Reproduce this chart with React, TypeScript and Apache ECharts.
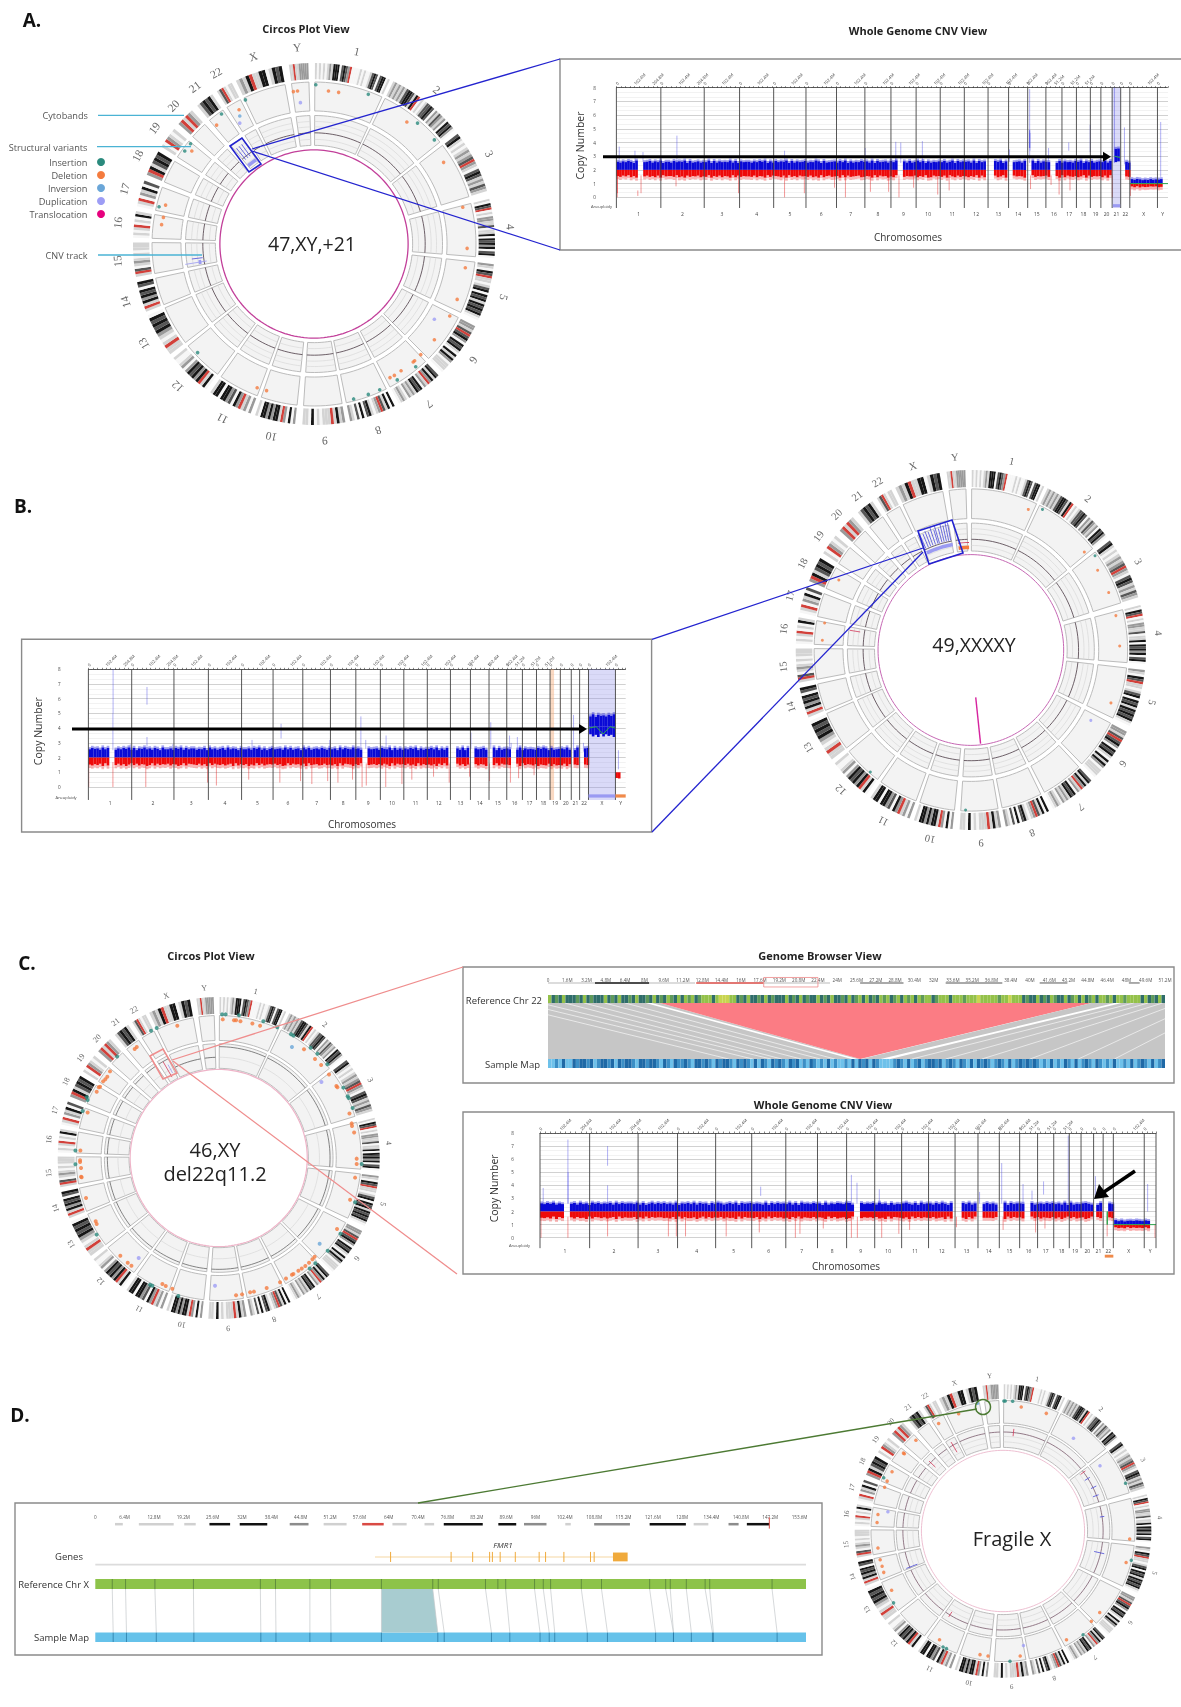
import React, { useEffect, useRef } from "react";
import * as echarts from "echarts";

const chromNames = ["1","2","3","4","5","6","7","8","9","10","11","12","13","14","15","16","17","18","19","20","21","22","X","Y"];
const chromLengthsMb = [249,243,198,191,181,171,159,146,141,135,135,133,115,107,102,90,81,78,59,63,48,51,155,59];
const chromStartDeg = [0.3,26,52.5,75.5,96.4,117,136.5,153.5,170,186,200.5,216.5,232.5,248,259.5,272,282,292.5,302.5,311.5,319.8,327.5,334.4,352];
const chromEndDegs = [24.8,51,73,94.5,115,135,152,168.5,183.7,199,215,231,246.8,257.8,270.5,280.5,290.5,300.7,309.5,317.6,325.8,333,349.7,358.2];
const cytobands = [
  "10101012144403432r0000101001343034401","1212121344314r010133430213212043420","34101012123r210343121321","1043r0102211301140434240340",
  "21043r110134043414343410","2213r342043410414201110","34142r120434121201210","40413r2101430403012","2141r1110104011",
  "20402r1442424401","2021r24032440441","041r424342021001","11r1012434340","1r142434034","1r30121010111","0101r01041",
  "01r021403","2r413434","10r2101","2r1r21","134341","13r1011","1214r114401434","11r1122222",
];
const svColors = ["#2a8a7d", "#f47b3e", "#6aa6d8", "#9d9df5", "#e6007e"];
const svNames = ["Insertion", "Deletion", "Inversion", "Duplication", "Translocation"];

const dotsA = [[.01,.88,0],[.08,.845,1],[.136,.838,1],[.3,.827,0],[.513,.674,1],[.572,.668,0],[.665,.575,0],[.716,.451,1],[.822,.203,1],[.846,-.024,1],[.836,-.131,1],[.791,-.306,1],[.665,-.416,3],[.75,-.398,1],[.665,-.529,1],[.59,-.611,1],[.556,-.645,1],[.548,-.652,1],[.562,-.678,0],[.481,-.7,1],[.444,-.726,1],[.42,-.738,1],[.46,-.751,0],[.363,-.805,0],[.3,-.831,0],[.219,-.856,0],[-.262,-.81,1],[-.314,-.794,1],[-.643,-.6,0],[-.842,.107,1],[-.832,.147,1],[-.82,.215,1],[-.856,.206,0],[-.714,.514,0],[-.675,.514,1],[-.682,.554,0],[-.538,.657,1],[-.511,.718,0],[-.414,.742,1],[-.41,.707,2],[-.41,.668,3],[-.379,.796,0],[-.114,.842,1],[-.091,.845,1],[-.075,.781,3]];
const dotsB = [[.328,.781,1],[.409,.781,0],[.648,.544,1],[.709,.524,0],[.724,.443,1],[.787,.319,1],[.828,.191,1],[.85,.022,1],[.8,-.294,1],[.685,-.391,3],[-.03,-.889,0],[-.574,-.678,0],[-.848,.054,1],[-.835,.15,1],[-.754,.389,1]];
const dotsC = [[.021,.892,0],[.043,.892,0],[.126,.886,0],[.025,.861,1],[.095,.855,1],[.108,.855,1],[.135,.849,1],[.209,.836,1],[.257,.822,1],[.277,.849,0],[.364,.812,0],[.449,.768,0],[.464,.76,0],[.455,.689,2],[.53,.675,1],[.571,.685,0],[.613,.648,0],[.598,.615,1],[.636,.578,1],[.675,.582,0],[.685,.518,1],[.638,.472,3],[.731,.447,1],[.737,.439,1],[.774,.437,0],[.801,.383,0],[.807,.373,0],[.832,.31,0],[.812,.277,1],[.826,.215,1],[.828,.199,1],[.841,.159,1],[.857,-.004,1],[.857,-.037,1],[.888,-.037,0],[.847,-.122,1],[.816,-.259,1],[.847,-.275,0],[.735,-.441,1],[.756,-.47,0],[.627,-.532,2],[.677,-.576,0],[.596,-.613,1],[.582,-.629,1],[.561,-.65,1],[.6,-.654,0],[.538,-.671,1],[.516,-.687,1],[.565,-.687,0],[.495,-.7,1],[.455,-.725,1],[.464,-.72,1],[.418,-.749,1],[.381,-.772,1],[.298,-.807,1],[.219,-.83,1],[.195,-.834,1],[.145,-.847,1],[.108,-.853,1],[-.023,-.793,3],[-.251,-.857,0],[-.288,-.812,1],[-.329,-.795,1],[-.35,-.783,1],[-.426,-.787,0],[-.412,-.793,0],[-.497,-.621,3],[-.542,-.669,1],[-.565,-.65,1],[-.611,-.607,1],[-.758,-.476,0],[-.758,-.41,1],[-.764,-.393,1],[-.824,-.248,1],[-.851,-.12,1],[-.855,-.116,1],[-.855,-.062,1],[-.89,-.039,0],[-.861,-.025,1],[-.861,-.014,1],[-.89,.046,0],[-.859,.046,1],[-.814,.282,1],[-.845,.292,0],[-.814,.36,0],[-.82,.377,0],[-.758,.412,1],[-.745,.439,1],[-.737,.443,1],[-.718,.476,1],[-.704,.489,1],[-.692,.505,1],[-.675,.538,1],[-.631,.631,0],[-.522,.677,1],[-.509,.689,1],[-.42,.791,0],[-.385,.807,0],[-.257,.822,1]];
const dotsD = [[.006,.886,0],[.015,.886,0],[.065,.884,0],[.123,.845,1],[.292,.802,1],[.475,.632,3],[.654,.445,3],[.826,.325,0],[.854,-.054,1],[.865,-.2,0],[.83,-.215,1],[.652,-.555,1],[.596,-.615,1],[.54,-.708,0],[.428,-.742,1],[.138,-.781,3],[.116,-.852,1],[.047,-.888,0],[-.101,-.852,1],[-.155,-.843,1],[-.381,-.802,0],[-.404,-.791,0],[-.428,-.742,1],[-.738,-.49,0],[-.751,-.404,1],[-.804,-.282,1],[-.815,-.241,1],[-.828,-.196,1],[-.843,-.116,1],[-.849,.058,1],[-.843,.112,1],[-.776,.131,3],[-.798,.299,1],[-.781,.34,1],[-.804,.363,0],[-.748,.404,1],[-.665,.527,1],[-.671,.531,1],[-.587,.619,1],[-.434,.733,1],[-.299,.8,1],[-.172,.871,2]];

// CNV-track marks on the circle: [startDeg, endDeg, innerRadius, outerRadius, colourIndex]
const markColors = ["#9a9af2", "#4a4ad8", "#d23a5a", "#f47b3e"];
const marksA = [[261,261,.6,.72,0],[260,262,.63,.645,0],[263,263,.62,.68,1],[320,325.5,.555,.575,0],[322.5,322.5,.6,.68,1],[324,324,.6,.68,1],[321,321,.6,.68,1]];
const marksB = [[335.5,335.5,.62,.71,1],[337,337,.62,.7,1],[338.3,338.3,.62,.71,1],[339.6,339.6,.62,.7,1],[341,341,.62,.72,1],[342.4,342.4,.62,.7,1],[343.2,343.2,.62,.72,1],[344.6,344.6,.62,.7,1],[345.8,345.8,.62,.72,1],[347,347,.62,.71,1],[348.2,348.2,.62,.72,1],[349.3,349.3,.62,.72,1],[335,350,.585,.605,0],[353,359,.56,.58,3],[353,359,.595,.6,2],[279,279,.64,.7,2]];
const marksC = [[330,330,.58,.69,2],[331.5,331.5,.6,.66,0]];
const marksD = [[53.6,53.6,.65,.69,2],[58,58,.65,.69,1],[64,64,.66,.7,1],[69,69,.65,.69,1],[81.7,81.7,.66,.69,1],[102.8,102.8,.63,.7,1],[6,6,.65,.7,2],[330,330,.62,.7,2],[313.7,313.7,.63,.69,2],[248.6,248.6,.62,.7,1],[212,212,.65,.69,2]];

const levelsA = [2,2,2,2,2,2,2,2,2,2,2,2,2,2,2,2,2,2,2,2,3,2,1,1];
const levelsB = [2,2,2,2,2,2,2,2,2,2,2,2,2,2,2,2,2,2,2,2,2,2,4.1,1];
const levelsC = [2,2,2,2,2,2,2,2,2,2,2,2,2,2,2,2,2,2,2,2,2,2,1,1];
const cnvGaps = [[0,122,144],[8,43,65],[12,0,19],[13,0,19],[14,0,18],[15,36,46],[20,0,13],[21,0,15],[23,30,59]];

const blueTopA = "6475863947"+"5684759366"+"4857693845"+"7465938475"+"6594837566"+"4758693748"+"5769384756"+"8465973845"+"6748593746"+"5867493856"+"7485963748"+"4695837465"+"7584693857"+"6749385746"+"5869374856"+"7486593847"+"6597384756"+"4869375846"+"7594836758"+"6485973648"+"5768493857";
const redLowA = "5746385946"+"6475849365"+"5738694756"+"4867395748"+"5693847566"+"7485693745"+"6849375846"+"5748693854"+"7659384765"+"4875693846"+"5968374756"+"6485739846"+"5749368475"+"6857394865"+"7486395746"+"5694837565"+"4768593846"+"7586394756"+"5849376485"+"6748395764"+"5486973865";
const blueTopB = "5867495867"+"4758694837"+"6957486395"+"5748694857"+"7465839574"+"6849576385"+"5748694736"+"8567495846"+"7395846758"+"6485739586"+"5967483756"+"7486593847"+"4758693746"+"6859374857"+"5749386475"+"6847593846"+"7568493756"+"5486973845"+"6759483976"+"7859486758"+"6978586974";
const redLowB = "6857493856"+"7485963748"+"5697384756"+"4856973845"+"6748593746"+"7586493857"+"5968374865"+"6475983746"+"5849376587"+"4768593845"+"6957384765"+"7584693846"+"5748693857"+"6859473846"+"7485963758"+"5694873846"+"6758493756"+"8596784958"+"7849586795"+"6748593847"+"5968475869";
const blueTopC = "7586947586"+"6849573968"+"5768495867"+"7594836958"+"6857493768"+"5948673859"+"7468593867"+"8576493858"+"6759483967"+"5867394758"+"7598463857"+"6849573846"+"5796483957"+"7485963867"+"6859473758"+"5748693857"+"7695846758"+"6857493946"+"5786493867"+"7594836758"+"6485973648";
const redLowC = "6758394756"+"5847693845"+"7586493756"+"6495837465"+"5768493847"+"7596384756"+"4857693846"+"6749583746"+"5869473856"+"7485693748"+"6597384756"+"5748693845"+"6859374756"+"7486593847"+"5694837566"+"6748593746"+"5869374856"+"7485963748"+"6597384756"+"5748693857"+"6849375846";

// copy-number outliers: [genome Mb, low copy number, high copy number]
const blueSpikesA = [[16,2.5,3.7],[104,2.6,3.4],[149,2.6,3.3],[339,2.5,4.5],[942,2.6,3.4],[1394,2.6,3.6],[1565,2.5,4.05],[1593,2.5,4],[1714,2.6,4.1],[2202,2.6,3.5],[2315,2.5,7.9],[2314,3.6,4.9],[2316,3.6,4.9],[2317,3.4,4.7],[2421,2.6,3.6],[2534,3.4,4],[2654,3.3,5.3],[2790,2.5,8],[2846,2.4,5.1],[3049,1.5,5.5]];
const redSpikesA = [[5,0,1.7],[6,.3,1.6],[120,.1,.5],[138,.3,1.6],[334,.8,1.6],[684,.3,1.6],[942,0,1.6],[1053,.3,1.6],[1222,.7,1.6],[1283,0,1.5],[1423,.4,1.5],[1525,.4,1.6],[1583,0,1.6],[1665,.7,1.6],[1800,.2,1.5],[1864,.5,1.6],[2320,.6,1.6],[2435,.9,1.6],[2480,.2,1.6],[2541,.5,1.6],[2778,0,1.6],[2880,.1,1]];
const blueSpikesB = [[141,2.5,5],[142,5,8],[241,2.5,2.9],[337,2.6,3.4],[337,5.6,6.8],[485,2.5,2.9],[941,2.5,3.2],[1108,3.3,4.3],[1388,2.6,3.2],[1567,2.6,4.8],[1595,2.6,3.2],[1712,2.6,3.5],[2200,2.6,3.7],[2314,2.6,4.4],[2422,2.6,3.5],[2431,2.6,3],[2467,2.5,3.4],[2790,2.5,4.9],[2847,2.4,3],[3048,1.2,2.5]];
const redSpikesB = [[2,0,1.7],[141,0,1.7],[330,0,1.6],[685,.3,1.6],[736,.1,1.6],[922,.5,1.6],[1101,.3,1.6],[1220,.4,1.6],[1285,.2,1.6],[1376,.4,1.6],[1435,.3,1.6],[1519,.5,1.6],[1574,0,1.6],[1598,.1,1.6],[1710,0,1.6],[1803,.2,1.6],[1860,.5,1.6],[1985,.7,1.7],[2075,.3,1.6],[2192,.7,1.6],[2307,.4,1.6],[2427,.3,1.6],[2474,.6,1.6],[2563,.8,1.6]];
const blueSpikesC = [[16,2.5,3.8],[140,2.6,7.5],[141,2.6,5],[339,5.5,7],[339,2.6,4],[1107,3.2,3.9],[1562,2.6,4.8],[1590,2.6,4.2],[1702,2.6,3.7],[2205,2.6,3.5],[2316,2.6,5.7],[2423,2.6,4.1],[2468,2.9,3.6],[2526,3.3,4.3],[2650,2.6,7.8],[2786,3,4.7],[3048,2,4.1]];
const redSpikesC = [[5,0,1.7],[140,0,1.6],[339,.1,1.6],[644,.1,1.6],[684,.1,1.6],[730,.1,1.6],[934,.1,1.6],[1100,.4,1.6],[1281,0,1.6],[1304,.3,1.6],[1421,.7,1.6],[1562,0,1.6],[1592,0,1.6],[1714,0,1.6],[1800,.3,1.6],[1854,.6,1.6],[2089,.8,1.6],[2323,.6,1.6],[2486,.4,1.6],[2533,.7,1.6],[2845,.1,1.6],[3085,0,1]];
const chromTickMb = [[0,102.4,204.8],[0,102.4,204.8],[0,102.4],[0,102.4],[0,102.4],[0,102.4],[0,102.4],[0,102.4],[0,102.4],[0,102.4],[0,102.4],[0,102.4],[0,102.4],[0,102.4],[0,102.4],[0,51.2],[0,51.2],[0,51.2],[0],[0],[0],[0],[0,102.4],[0]];

// genome browser, chromosome 22
const rulerC = [[0,3.9,0],[3.9,8.4,2],[8.4,12.2,0],[12.3,17.9,3],[17.9,23.4,0],[25.9,29.5,1],[33,37.7,1],[40.8,43.1,1],[48.2,49.1,1]];
const refStripesC = "gdmdgdddmdgdmdddgdmdgddmdgddmdgdmdgmdgdgmgdmgggdgyyyggdmdgddmdgdmdddgdmdgdmddgdmdgddmdgdmgdgdmdgmgdmgdgmgdgmggdmgggdgggmgggygggggmggygggdmddgdmdgmddgdmgdgdmgdggmgdggmggggdgdmdgd";
const sampleStripesC = "llnlbllbnbbnblnbbnblbnbbnlbbnbbnlbnlbnnbnlbbnbnlbnbbnlbnbnlblbnlbnbnlbnblnlbnlnlblnllnlblbnblbnllllnbnlblnblnbbnblnbnlbnlblbnbnlnbnlblnbnbnbnlnlblnlbnlblnbnlbnlnlbllnlblnbnlblnb";
// aligned blocks: [reference start, reference end, sample start, sample end, colourIndex]
const blocksC = [[-25,8.1,-25,25.2,0],[8.6,9.3,25.7,25.9,0],[9.3,45.1,25.9,25.9,1],[45.1,47,26,27.6,0],[47.6,60,28.4,60,0]];
const linksLeftC = [[-4,15],[-2.2,17],[-.6,18.5],[1.4,19.4],[3,21],[4.7,22.6],[6.4,23.8]];
const linksRightC = [[48.6,30.2],[49.8,33],[51,36],[52.4,40],[54,44],[56,47]];

// genome browser, chromosome X
const rulerD = [[4.3,6,0],[9.5,17.1,0],[19.4,21.9,0],[24.9,29.4,2],[31.5,37.5,2],[42.4,46.5,1],[49.8,54.8,0],[58.2,62.9,3],[64.8,67.9,0],[71.8,73.9,0],[76,84.5,2],[87.9,91.8,2],[93.5,98.4,1],[102.5,103.7,0],[108.8,116.6,1],[120.9,128.8,2],[130.5,133.7,0],[138.1,140.3,1],[142.1,147,2]];
const linksD = [[3.7,3.9],[6.6,6.8],[13,13.3],[21.4,21.5],[36,36.1],[39.3,39.4],[46.8,46.8],[51.3,51.4],[62.4,62.4],[73.6,74.7],[74.8,76.1],[85.1,86.4],[89.5,90.4],[95.8,97],[97.7,99],[99.3,100.2],[106,107.3],[110.4,111.7],[120.9,122.2],[124.4,126.1],[125.4,126.1],[128.9,130],[133,134.6],[134,134.8],[147.6,148.7]];
const refOnlyTicksD = [87.8];
const blockD = [[62.4,73.6,62.4,74.7,0]];
const exonsD = [64.4,77.6,82.3,86,86.6,88.3,91.6,96.8,98.2,102.2,108,108.8];
const geneSpanD = [61,112.9];
const utrD = [112.9,116.1];

const rad = (d: number) => (d * Math.PI) / 180;
const totalMb = chromLengthsMb.reduce((a, b) => a + b, 0);
const chromStartMb: number[] = [];
{
  let m = 0;
  chromLengthsMb.forEach((l) => { chromStartMb.push(m); m += l; });
}
const chromEndDeg = (i: number) => chromEndDegs[i];
const toXY = (a: number, r: number) => [r * Math.sin(rad(a)), r * Math.cos(rad(a))];
const arc = (api: any, a0: number, a1: number, r: number) => {
  const n = Math.max(1, Math.ceil(Math.abs(a1 - a0) / 2));
  const pts: number[][] = [];
  for (let i = 0; i <= n; i++) pts.push(api.coord(toXY(a0 + ((a1 - a0) * i) / n, r)));
  return pts;
};

const buildOption = () => {
  const grid: any[] = [], xAxis: any[] = [], yAxis: any[] = [], series: any[] = [], graphic: any[] = [];

  const text = (t: string, x: number, y: number, fontSize: number, o: any = {}) =>
    graphic.push({ type: "text", x, y, rotation: o.rotation || 0, z: 120, silent: true, style: { text: t, fontSize, fontFamily: o.font || "Open Sans", fontWeight: o.weight || "normal", fontStyle: o.italic ? "italic" : "normal", fill: o.fill || "#333", align: o.align || "center", verticalAlign: "middle" } });
  const line = (x1: number, y1: number, x2: number, y2: number, stroke: string, lineWidth = 1.3) =>
    graphic.push({ type: "line", z: 110, silent: true, shape: { x1, y1, x2, y2 }, style: { stroke, lineWidth } });
  const frame = (x: number, y: number, width: number, height: number) =>
    graphic.push({ type: "rect", z: 1, silent: true, shape: { x, y, width, height }, style: { fill: "none", stroke: "#8a8a8a", lineWidth: 1.4 } });
  const poly = (points: number[][], stroke: string, lineWidth = 1.6) =>
    graphic.push({ type: "polygon", z: 110, silent: true, shape: { points }, style: { fill: "none", stroke, lineWidth } });

  const addGrid = (left: number, top: number, width: number, height: number, xo: any, yo: any) => {
    const gi = grid.length;
    grid.push({ left, top, width, height, show: false, containLabel: false });
    xAxis.push({ gridIndex: gi, type: "value", ...xo });
    yAxis.push({ gridIndex: gi, type: "value", ...yo });
    return { xAxisIndex: xAxis.length - 1, yAxisIndex: yAxis.length - 1 };
  };
  const custom = (ax: any, data: any[], renderItem: any, extra: any = {}) =>
    series.push({ type: "custom", ...ax, data, renderItem, silent: true, animation: false, ...extra });

  const rectRender = (palette: string[]) => (_: any, api: any) => {
    const a = api.coord([api.value(0), api.value(2)]), b = api.coord([api.value(1), api.value(3)]);
    return { type: "rect", shape: { x: Math.min(a[0], b[0]), y: Math.min(a[1], b[1]), width: Math.abs(b[0] - a[0]), height: Math.abs(b[1] - a[1]) }, style: { fill: palette[api.value(4)] } };
  };
  const lineRender = (palette: string[], lw: number) => (_: any, api: any) => {
    const a = api.coord([api.value(0), api.value(1)]), b = api.coord([api.value(2), api.value(3)]);
    return { type: "line", shape: { x1: a[0], y1: a[1], x2: b[0], y2: b[1] }, style: { stroke: palette[api.value(4)], lineWidth: lw } };
  };

  // ------------------------------------------------- circos
  const addCircos = (c: any) => {
    const ext = { min: -1.2, max: 1.2, show: false };
    const ax = addGrid(c.cx - 1.2 * c.R, c.cy - 1.2 * c.R, 2.4 * c.R, 2.4 * c.R, ext, ext);
    const boxes: number[][] = [], arcs: number[][] = [], curve: number[][] = [], cyto: number[][] = [];
    chromNames.forEach((_, i) => {
      const a0 = chromStartDeg[i], a1 = chromEndDeg(i);
      boxes.push([a0, a1, c.sv[0], c.sv[1]], [a0, a1, c.cnv[0], c.cnv[1]]);
      c.cnvGrid.forEach((f: number) => arcs.push([a0, a1, c.cnv[0] + f * (c.cnv[1] - c.cnv[0])]));
      curve.push([a0, a1, c.cnv[0] + (i >= 22 ? c.sexLevel : c.level) * (c.cnv[1] - c.cnv[0])]);
      const s = cytobands[i], w = (a1 - a0) / s.length;
      s.split("").forEach((ch, k) => cyto.push([a0 + k * w, a0 + (k + 1) * w, ch === "r" ? 5 : Number(ch)]));
    });
    const cytoColors = ["#f6f6f6", "#d4d4d4", "#9a9a9a", "#565656", "#161616", "#d2403a"];
    custom(ax, boxes, (_: any, api: any) => ({
      type: "polygon",
      shape: { points: [...arc(api, api.value(0), api.value(1), api.value(3)), ...arc(api, api.value(1), api.value(0), api.value(2))] },
      style: { fill: "#f3f3f3", stroke: "#b4b4b4", lineWidth: 0.9 },
    }));
    custom(ax, arcs, (_: any, api: any) => ({ type: "polyline", shape: { points: arc(api, api.value(0), api.value(1), api.value(2)) }, style: { fill: "none", stroke: "#d8d8d8", lineWidth: 0.7 } }));
    custom(ax, curve, (_: any, api: any) => ({ type: "polyline", shape: { points: arc(api, api.value(0), api.value(1), api.value(2)) }, style: { fill: "none", stroke: c.curveColor, lineWidth: 0.8 } }));
    custom(ax, cyto, (_: any, api: any) => ({
      type: "polygon",
      shape: { points: [...arc(api, api.value(0), api.value(1), 1), ...arc(api, api.value(1), api.value(0), c.cyto)] },
      style: { fill: cytoColors[api.value(2)] },
    }));
    custom(ax, [[0, 360, c.pink]], (_: any, api: any) => ({ type: "polyline", shape: { points: arc(api, api.value(0), api.value(1), api.value(2)) }, style: { fill: "none", stroke: c.pinkColor, lineWidth: c.pinkWidth } }));
    custom(ax, c.marks, (_: any, api: any) => {
      const a0 = api.value(0), a1 = api.value(1), r0 = api.value(2), r1 = api.value(3), col = markColors[api.value(4)];
      if (a0 === a1) {
        const p = api.coord(toXY(a0, r0)), q = api.coord(toXY(a0, r1));
        return { type: "line", shape: { x1: p[0], y1: p[1], x2: q[0], y2: q[1] }, style: { stroke: col, lineWidth: 0.8 } };
      }
      return { type: "polygon", shape: { points: [...arc(api, a0, a1, r1), ...arc(api, a1, a0, r0)] }, style: { fill: col } };
    });
    if (c.links) custom(ax, c.links, lineRender(["#d6249f"], 1.4));
    series.push({ type: "scatter", ...ax, data: c.dots, symbolSize: c.dot, silent: true, animation: false, itemStyle: { color: (p: any) => svColors[p.value[2]] }, z: 4 });
    custom(ax, chromNames.map((_, i) => [(chromStartDeg[i] + chromEndDeg(i)) / 2, c.labelR]), (p: any, api: any) => {
      const a = api.value(0), q = api.coord(toXY(a, api.value(1)));
      return { type: "text", x: q[0], y: q[1], rotation: -rad(a), style: { text: chromNames[p.dataIndex], fontFamily: "Liberation Serif", fontSize: c.labelSize, fill: "#666", align: "center", verticalAlign: "middle" } };
    });
  };

  addCircos({ cx: 314, cy: 244, R: 181, pink: .52, pinkColor: "#c2409a", pinkWidth: 1.3, cnv: [.545, .71], sv: [.735, .895], cyto: .91, cnvGrid: [.2, .62, .8], level: .42, sexLevel: .42, curveColor: "#4a3a44", marks: marksA, dots: dotsA, dot: 3.6, labelR: 1.09, labelSize: 11.5 });
  addCircos({ cx: 976.7, cy: 650, R: 180, pink: .53, pinkColor: "#c668b4", pinkWidth: 1, cnv: [.55, .705], sv: [.73, .895], cyto: .905, cnvGrid: [.2, .62, .8], level: .42, sexLevel: .42, curveColor: "#4a3a44", marks: marksB, dots: dotsB, dot: 3, labelR: 1.075, labelSize: 10.5, links: [[.0278, -.263, .0555, -.52, 0]] });
  addCircos({ cx: 218.7, cy: 1158, R: 161, pink: .55, pinkColor: "#eeb4c8", pinkWidth: 1.2, cnv: [.557, .71], sv: [.73, .885], cyto: .895, cnvGrid: [.45], level: .88, sexLevel: .45, curveColor: "#666", marks: marksC, dots: dotsC, dot: 4, labelR: 1.06, labelSize: 8 });
  addCircos({ cx: 1011, cy: 1541, R: 155, pink: .55, pinkColor: "#eec0d2", pinkWidth: 1, cnv: [.57, .72], sv: [.735, .89], cyto: .9, cnvGrid: [.25, .5], level: .7, sexLevel: .7, curveColor: "#7a5a6c", marks: marksD, dots: dotsD, dot: 3.5, labelR: 1.06, labelSize: 7 });

  // ------------------------------------------------- whole genome CNV
  const addCnv = (c: any) => {
    const gx = { min: 0, max: totalMb };
    const ax = addGrid(c.left, c.top, c.right - c.left, c.y0 - c.top,
      { ...gx, position: "top", interval: 25.6, axisLine: { show: true, onZero: false, lineStyle: { color: "#222", type: "dotted", width: 0.7 } }, axisTick: { show: true, length: 1.5, lineStyle: { color: "#333", width: 0.6 } }, axisLabel: { show: false }, splitLine: { show: false } },
      { min: 0, max: 8, interval: 1, axisLine: { show: false }, axisTick: { show: false }, minorTick: { show: false, splitNumber: 3 }, axisLabel: { fontSize: 4.6, color: "#444", fontFamily: "Open Sans", margin: c.left - c.tickX }, splitLine: { show: true, lineStyle: { color: "#bdbdbd", width: 0.7 } }, minorSplitLine: { show: true, lineStyle: { color: "#e4e4e4", width: 0.5 } } });
    const toneColors = ["rgba(140,140,232,0.32)", "rgba(244,170,120,0.45)"];
    custom(ax, c.tints.map((t: number[]) => [t[0], t[1], 8, c.lineEnd, t[2]]), rectRender(toneColors));
    const inGap = (mb: number) => cnvGaps.some((g) => mb + 15 > chromStartMb[g[0]] + g[1] && mb < chromStartMb[g[0]] + g[2]);
    const chromOf = (mb: number) => { let i = 0; while (i < 23 && chromStartMb[i + 1] <= mb) i++; return i; };
    const halos: number[][] = [], bins: number[][] = [];
    for (let i = 0; i * 15 < totalMb; i++) {
      const mb = i * 15;
      if (inGap(mb)) continue;
      const ci = chromOf(mb + 7), lv = c.levels[ci], only = c.blueOnly.includes(ci), red = c.redOnly.includes(ci);
      const s = (lv / 2) * (only ? 0.6 : 1);
      const top = lv + (0.42 + Number(c.blueTop[i]) * 0.03) * s, low = lv - (0.3 + Number(c.redLow[i]) * 0.03) * s;
      if (!red) { bins.push([mb, mb + 15.3, lv, top, 0]); halos.push([mb, mb + 15.3, top, top + 0.14, 0]); }
      if (!only && !red) { bins.push([mb, mb + 15.3, lv, low, 1]); halos.push([mb, mb + 15.3, low, low - 0.22, 1]); }
      if (only) bins.push([mb, mb + 15.3, lv, low, 0]);
      if (red) bins.push([mb, mb + 15.3, lv, low - 0.15, 1]);
    }
    custom(ax, halos, rectRender(["rgba(10,10,214,0.38)", "rgba(238,10,10,0.3)"]));
    custom(ax, bins, rectRender(["#0a0ad6", "#ee0a0a"]));
    custom(ax, c.blueSpikes.map((s: number[]) => [s[0], s[1], s[0], s[2], 0]), lineRender(["rgba(50,50,225,0.55)"], 0.7));
    custom(ax, c.redSpikes.map((s: number[]) => [s[0], s[1], s[0], s[2], 0]), lineRender(["rgba(225,20,20,0.55)"], 0.8));
    custom(ax, c.green, lineRender(["#2fa84f"], 1));
    custom(ax, chromStartMb.map((m) => [m, 8, m, c.lineEnd, 0]).concat(c.endLine ? [[totalMb, 8, totalMb, c.lineEnd, 0]] : []), lineRender(["#444"], 0.9));
    custom(ax, c.aneuploidy.map((a: number[]) => [a[0], a[1], c.barY, c.barY - 0.22, a[2]]), rectRender(["#9a9af2", "#f08a4a"]));
    custom(ax, chromNames.map((_, i) => [chromStartMb[i] + chromLengthsMb[i] / 2, c.labelY]), (p: any, api: any) => {
      const q = api.coord([api.value(0), api.value(1)]);
      return { type: "text", x: q[0], y: q[1], style: { text: chromNames[p.dataIndex], fontSize: 5, fontFamily: "Open Sans", fill: "#444", align: "center", verticalAlign: "middle" } };
    });
    const ticks: number[][] = [];
    chromTickMb.forEach((l, i) => l.forEach((t) => ticks.push([chromStartMb[i] + t, 8.25, t])));
    custom(ax, ticks, (_: any, api: any) => {
      const q = api.coord([api.value(0), api.value(1)]), t = api.value(2);
      return { type: "text", x: q[0], y: q[1], rotation: Math.PI / 4, style: { text: t === 0 ? "0" : `${t}M`, fontSize: 4.2, fontFamily: "Open Sans", fill: "#444", align: "left", verticalAlign: "middle" } };
    });
    text("Aneuploidy", c.tickX - 5, c.aneuY, 4, { align: "left", fill: "#444" });
    text("Copy Number", c.yNameX, (c.top + c.y0) / 2 + 3, 10.5, { rotation: Math.PI / 2, fill: "#333" });
    text("Chromosomes", c.xNameX, c.xNameY, 10, { fill: "#333" });
  };

  addCnv({ left: 616.4, right: 1168, top: 87.7, y0: 197.3, tickX: 596, blueTop: blueTopA, redLow: redLowA, levels: levelsA, blueOnly: [20], redOnly: [], blueSpikes: blueSpikesA, redSpikes: redSpikesA, tints: [[2777, 2825, 0]], green: [[2790, 3, 2822, 2.9, 0], [2876, 1, 3090, 1, 0]], lineEnd: -.78, labelY: -1.2, barY: -.5, aneuploidy: [[2781, 2822, 0]], aneuY: 206, yNameX: 580, xNameX: 908, xNameY: 237 });
  addCnv({ left: 88.4, right: 625.7, top: 669.3, y0: 787, tickX: 60.6, blueTop: blueTopB, redLow: redLowB, levels: levelsB, blueOnly: [22], redOnly: [23], blueSpikes: blueSpikesB, redSpikes: redSpikesB, tints: [[2876, 3031, 0], [2655, 2678, 1], [2712, 2715, 1]], green: [[2876, 4, 2920, 4.1, 0], [2920, 4.1, 2960, 3.6, 0], [2960, 3.6, 3000, 4.1, 0], [3000, 4.1, 3031, 4, 0]], lineEnd: -.88, labelY: -1.09, barY: -.5, aneuploidy: [[2876, 3031, 0], [3031, 3090, 1]], aneuY: 797, yNameX: 38, xNameX: 362, xNameY: 824 });
  addCnv({ left: 540, right: 1156, top: 1133, y0: 1237.7, tickX: 514, endLine: true, blueTop: blueTopC, redLow: redLowC, levels: levelsC, blueOnly: [], redOnly: [], blueSpikes: blueSpikesC, redSpikes: redSpikesC, tints: [], green: [[2845, 1, 2845, 2, 0], [2846, 1, 2846, 2, 0], [2876, 1, 3090, 1, 0]], lineEnd: -.8, labelY: -1, barY: -1.3, aneuploidy: [[2833, 2876, 1]], aneuY: 1245, yNameX: 494, xNameX: 846, xNameY: 1266 });

  // ------------------------------------------------- browser views
  const rulerAxis = (max: number, interval: number, offset: number) => ({
    min: 0, max, interval, position: "top", offset,
    axisLine: { show: false, onZero: false }, axisTick: { show: false }, splitLine: { show: false },
    axisLabel: { fontSize: 4.6, color: "#555", fontFamily: "Open Sans", margin: 1, showMaxLabel: true, formatter: (v: number) => (v === 0 ? "0" : `${Math.round(v * 10) / 10}M`) },
  });
  const rulerColors = ["#d0d0d0", "#8c8c8c", "#111", "#d94a44"];
  const hiddenY = { min: 0, max: 1, show: false };

  // chromosome 22
  const axC = addGrid(548, 995, 617, 73, rulerAxis(51.2, 1.6, 12), hiddenY);
  custom(axC, rulerC.map((r) => [r[0], r[1], 1.155, 1.175, r[2]]), rectRender(rulerColors));
  custom(axC, [[17.9, 22.4, 1.11, 1.24, 0]], (_: any, api: any) => {
    const a = api.coord([api.value(0), api.value(3)]), b = api.coord([api.value(1), api.value(2)]);
    return { type: "rect", shape: { x: a[0], y: a[1], width: b[0] - a[0], height: b[1] - a[1] }, style: { fill: "none", stroke: "#e88", lineWidth: 0.8 } };
  });
  custom(axC, blocksC, (_: any, api: any) => {
    const p = [api.coord([api.value(0), .89]), api.coord([api.value(1), .89]), api.coord([api.value(3), .123]), api.coord([api.value(2), .123])];
    return { type: "polygon", shape: { points: p }, style: { fill: ["#c6c6c6", "#fb7c84"][api.value(4)] } };
  }, { clip: true });
  custom(axC, linksLeftC.concat(linksRightC).map((l) => [l[0], .89, l[1], .123, 0]), lineRender(["#ececec"], 0.9), { clip: true });
  const refColors: any = { g: "#94c14a", d: "#2f6d6a", m: "#5f9a5a", y: "#c8d450" };
  const refKeys = Object.keys(refColors);
  const cellC = 51.2 / refStripesC.length;
  custom(axC, refStripesC.split("").map((ch, i) => [i * cellC, (i + 1) * cellC, 1, .89, refKeys.indexOf(ch)]), rectRender(refKeys.map((k) => refColors[k])));
  const sampleColors: any = { l: "#6ec1ea", b: "#1f69a6", n: "#3c8fc6" };
  const sampleKeys = Object.keys(sampleColors);
  const cellS = 51.2 / sampleStripesC.length;
  custom(axC, sampleStripesC.split("").map((ch, i) => [i * cellS, (i + 1) * cellS, .123, 0, sampleKeys.indexOf(ch)]), rectRender(sampleKeys.map((k) => sampleColors[k])));
  frame(463, 967, 711, 116);
  text("Genome Browser View", 820, 955.7, 11, { weight: "bold", fill: "#222" });
  text("Reference Chr 22", 542, 1000, 9.5, { align: "right" });
  text("Sample Map", 540, 1064, 9.5, { align: "right" });

  // chromosome X
  const axD = addGrid(95.3, 1579, 710.7, 63, { ...rulerAxis(155, 6.4, 59), axisLabel: { ...rulerAxis(155, 6.4, 59).axisLabel, showMaxLabel: false } }, hiddenY);
  custom(axD, rulerD.map((r) => [r[0], r[1], 1.85, 1.89, r[2]]), rectRender(rulerColors));
  custom(axD, [[147, 1.8, 147, 1.98, 0]], lineRender(["#d94a44"], 1));
  custom(axD, [[0, 1.227, 155, 1.227, 0]], lineRender(["#dcdcdc"], 1.8));
  custom(axD, [[geneSpanD[0], 1.349, geneSpanD[1], 1.349, 0]], lineRender(["#f8e4c2"], 1.6));
  custom(axD, exonsD.map((e) => [e, 1.27, e, 1.43, 0]), lineRender(["#f0aa3c"], 1));
  custom(axD, [[utrD[0], utrD[1], 1.28, 1.42, 0]], rectRender(["#f0aa3c"]));
  custom(axD, [[0, 155, 1, .84, 0], [0, 155, .149, 0, 1]], rectRender(["#8dc34a", "#66c2ea"]));
  custom(axD, blockD, (_: any, api: any) => {
    const p = [api.coord([api.value(0), .84]), api.coord([api.value(1), .84]), api.coord([api.value(3), .149]), api.coord([api.value(2), .149])];
    return { type: "polygon", shape: { points: p }, style: { fill: "#a8ccd0" } };
  });
  custom(axD, linksD.map((l) => [l[0], .84, l[1], .149, 0]), lineRender(["#c4c8cc"], 0.7));
  custom(axD, linksD.concat(refOnlyTicksD.map((t) => [t, t])).map((l) => [l[0], 1, l[0], .84, 0]), lineRender(["#55803a"], 0.8));
  custom(axD, linksD.map((l) => [l[1], .149, l[1], 0, 0]), lineRender(["#2a7ca8"], 0.8));
  frame(15, 1503, 807, 152);
  text("FMR1", 503, 1544, 8, { italic: true, fill: "#333" });
  text("Genes", 69, 1556, 9.5, { fill: "#333" });
  text("Reference Chr X", 89, 1584.7, 9.5, { align: "right" });
  text("Sample Map", 89, 1637, 9.5, { align: "right" });

  // ------------------------------------------------- frames, connectors, annotation
  frame(560, 59, 630, 191);
  frame(21.6, 639.3, 630, 192.7);
  frame(463, 1112, 711, 162);

  const blue = "#2323cf";
  poly([[230, 146], [242, 138], [261, 164], [249, 172]], blue);
  line(252, 149, 560, 59, blue); line(252, 151, 560, 250, blue);
  poly([[918, 531], [952, 520], [963, 553], [929, 564]], blue);
  line(923, 548, 652, 639.3, blue); line(923, 552, 652, 832, blue);
  const rose = "#ef8d8d";
  poly([[150, 1056], [163, 1049], [177, 1073], [163, 1079]], rose);
  line(172, 1060, 463, 967, rose); line(173, 1061, 457, 1274, rose);
  line(418, 1503, 977, 1409, "#4c7a33");
  graphic.push({ type: "circle", z: 110, silent: true, shape: { cx: 983, cy: 1407, r: 7.5 }, style: { fill: "none", stroke: "#4c7a33", lineWidth: 1.5 } });

  const arrow = (x1: number, y1: number, x2: number, y2: number, hx: number) => {
    line(x1, y1, x2 - hx, y2, "#000", 3);
    graphic.push({ type: "polygon", z: 115, silent: true, shape: { points: [[x2, y2], [x2 - hx, y2 - 5], [x2 - hx, y2 + 5]] }, style: { fill: "#000" } });
  };
  arrow(603, 156.7, 1111, 156.7, 8);
  arrow(72, 729, 587, 729, 8);
  line(1135, 1171, 1101, 1194, "#000", 3.5);
  graphic.push({ type: "polygon", z: 115, silent: true, shape: { points: [[1094, 1199], [1109, 1197], [1099, 1184]] }, style: { fill: "#000" } });

  text("A.", 32, 20, 19, { weight: "bold", fill: "#111" });
  text("B.", 23, 506, 19, { weight: "bold", fill: "#111" });
  text("C.", 27, 963, 19, { weight: "bold", fill: "#111" });
  text("D.", 20, 1415, 19, { weight: "bold", fill: "#111" });
  text("Circos Plot View", 306, 28.5, 11, { weight: "bold", fill: "#222" });
  text("Whole Genome CNV View", 918, 30, 11, { weight: "bold", fill: "#222" });
  text("Circos Plot View", 211, 955.7, 11, { weight: "bold", fill: "#222" });
  text("Whole Genome CNV View", 823, 1104, 11, { weight: "bold", fill: "#222" });
  text("47,XY,+21", 312, 243, 19.5, { fill: "#222" });
  text("49,XXXXY", 974, 644, 19.5, { fill: "#222" });
  text("46,XY", 215, 1149, 20, { fill: "#222" });
  text("del22q11.2", 215, 1173, 20, { fill: "#222" });
  text("Fragile X", 1012, 1538, 20, { fill: "#222" });

  // legend of panel A
  const teal = "#4ab3d4";
  text("Cytobands", 88, 115.7, 9.2, { align: "right", fill: "#555" });
  line(98, 115.3, 184, 115.3, teal);
  text("Structural variants", 87.5, 147, 9.2, { align: "right", fill: "#555" });
  line(97, 146.7, 191, 146.7, teal);
  text("CNV track", 87.5, 255, 9.2, { align: "right", fill: "#555" });
  line(98, 255, 202, 255, teal);
  svNames.forEach((n, i) => {
    const y = 162 + i * 13;
    text(n, 87.5, y, 9.2, { align: "right", fill: "#555" });
    graphic.push({ type: "circle", z: 110, silent: true, shape: { cx: 101, cy: y, r: 4 }, style: { fill: svColors[i] } });
  });

  return { animation: false, backgroundColor: "#ffffff", grid, xAxis, yAxis, series, graphic: { elements: graphic } };
};

export default function App() {
  const ref = useRef<HTMLDivElement>(null);
  useEffect(() => {
    const chart = echarts.init(ref.current as HTMLDivElement, undefined, { renderer: "svg" });
    chart.setOption(buildOption() as any);
    return () => chart.dispose();
  }, []);
  return <div ref={ref} style={{ position: "absolute", left: 0, top: 0, width: 1181, height: 1707, filter: "blur(0.4px)" }} />;
}
